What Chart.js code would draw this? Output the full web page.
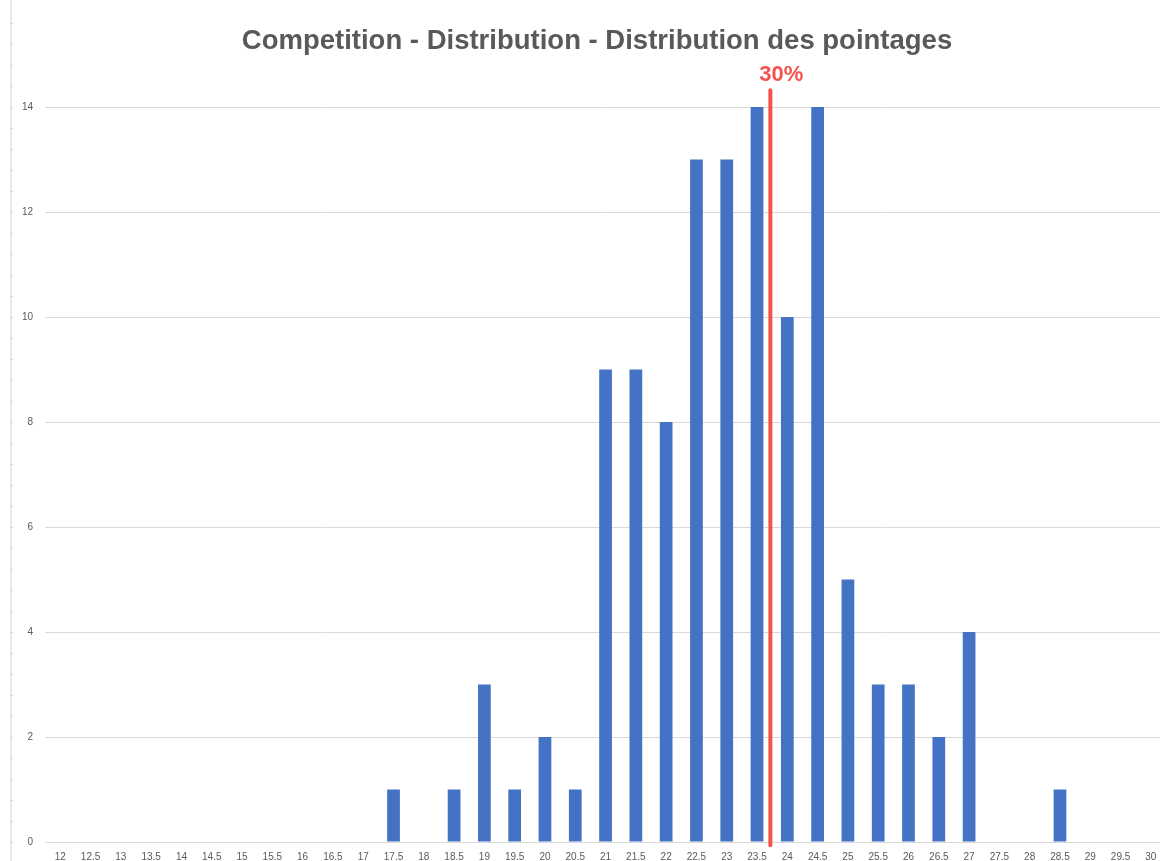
<!DOCTYPE html>
<html>
<head>
<meta charset="utf-8">
<script src="https://cdn.jsdelivr.net/npm/chart.js@4/dist/chart.umd.min.js"></script>
<style>
  html, body { margin: 0; padding: 0; background: #fff; overflow: hidden; }
  #wrap { width: 1166px; height: 872px; position: relative; }
</style>
</head>
<body>
<div id="wrap"><canvas id="chart"></canvas></div>
<script>
const scores = ["12", "12.5", "13", "13.5", "14", "14.5", "15", "15.5", "16", "16.5", "17", "17.5", "18", "18.5", "19", "19.5", "20", "20.5", "21", "21.5", "22", "22.5", "23", "23.5", "24", "24.5", "25", "25.5", "26", "26.5", "27", "27.5", "28", "28.5", "29", "29.5", "30"];
const counts = [0, 0, 0, 0, 0, 0, 0, 0, 0, 0, 0, 1, 0, 1, 3, 1, 2, 1, 9, 9, 8, 13, 13, 14, 10, 14, 5, 3, 3, 2, 4, 0, 0, 1, 0, 0, 0];
const yTicks = [0, 2, 4, 6, 8, 10, 12, 14];
const markerScore = 23.72;
const markerLabel = "30%";
const titleText = "Competition - Distribution - Distribution des pointages";

// title, red vertical marker and its label
const markerPlugin = {
  id: "marker",
  afterDatasetsDraw(chart) {
    const x = chart.scales.x;
    const y = chart.scales.y;
    const ctx = chart.ctx;
    ctx.save();
    ctx.fillStyle = "#595959";
    ctx.font = "bold 27.5px 'Liberation Sans', Arial, sans-serif";
    ctx.textAlign = "center";
    ctx.textBaseline = "middle";
    ctx.fillText(titleText, 597, 41);

    const pos = (markerScore - Number(scores[0])) / 0.5;
    const i = Math.floor(pos);
    const px = x.getPixelForValue(i) + (pos - i) * (x.getPixelForValue(i + 1) - x.getPixelForValue(i));
    ctx.strokeStyle = "#f4524d";
    ctx.lineWidth = 4;
    ctx.lineCap = "round";
    ctx.beginPath();
    ctx.moveTo(px, y.getPixelForValue(14.32));
    ctx.lineTo(px, y.getPixelForValue(-0.06));
    ctx.stroke();
    ctx.fillStyle = "#f4524d";
    ctx.font = "bold 22px 'Liberation Sans', Arial, sans-serif";
    ctx.fillText(markerLabel, px + 11, y.getPixelForValue(14.61));
    ctx.restore();
  }
};

// faint ruler on the left side
const rulerPlugin = {
  id: "ruler",
  beforeDraw(chart) {
    const y = chart.scales.y;
    const ctx = chart.ctx;
    ctx.save();
    ctx.strokeStyle = "#e3e3e3";
    ctx.lineWidth = 1.5;
    ctx.beginPath();
    ctx.moveTo(11, 0);
    ctx.lineTo(11, chart.height);
    ctx.stroke();
    ctx.strokeStyle = "#d6d6d6";
    ctx.lineWidth = 1;
    for (let v = 0; v <= 16; v += 0.4) {
      const py = Math.round(y.getPixelForValue(v)) + 0.5;
      if (py < 0) break;
      ctx.beginPath();
      ctx.moveTo(11, py);
      ctx.lineTo(13, py);
      ctx.stroke();
    }
    ctx.restore();
  }
};

new Chart(document.getElementById("chart"), {
  type: "bar",
  data: {
    labels: scores,
    datasets: [{
      label: "Pointages",
      data: counts,
      backgroundColor: "#4472c4",
      barPercentage: 0.42,
      categoryPercentage: 1
    }]
  },
  options: {
    responsive: true,
    maintainAspectRatio: false,
    animation: false,
    layout: { padding: { left: 10, right: 0, top: 107, bottom: 0 } },
    plugins: {
      legend: { display: false },
      tooltip: { enabled: false },
      title: { display: false }
    },
    scales: {
      x: {
        grid: { display: false, drawTicks: false },
        border: { color: "#d9d9d9" },
        ticks: {
          color: "#595959",
          font: { family: "'Liberation Sans', Arial, sans-serif", size: 10 },
          maxRotation: 0,
          autoSkip: false,
          padding: 9
        }
      },
      y: {
        min: 0,
        max: 14,
        afterBuildTicks(axis) {
          axis.ticks = yTicks.map(v => ({ value: v }));
        },
        grid: { color: "#d9d9d9", drawTicks: false },
        border: { display: false },
        ticks: {
          color: "#595959",
          font: { family: "'Liberation Sans', Arial, sans-serif", size: 10 },
          padding: 12
        }
      }
    }
  },
  plugins: [rulerPlugin, markerPlugin]
});
</script>
</body>
</html>
